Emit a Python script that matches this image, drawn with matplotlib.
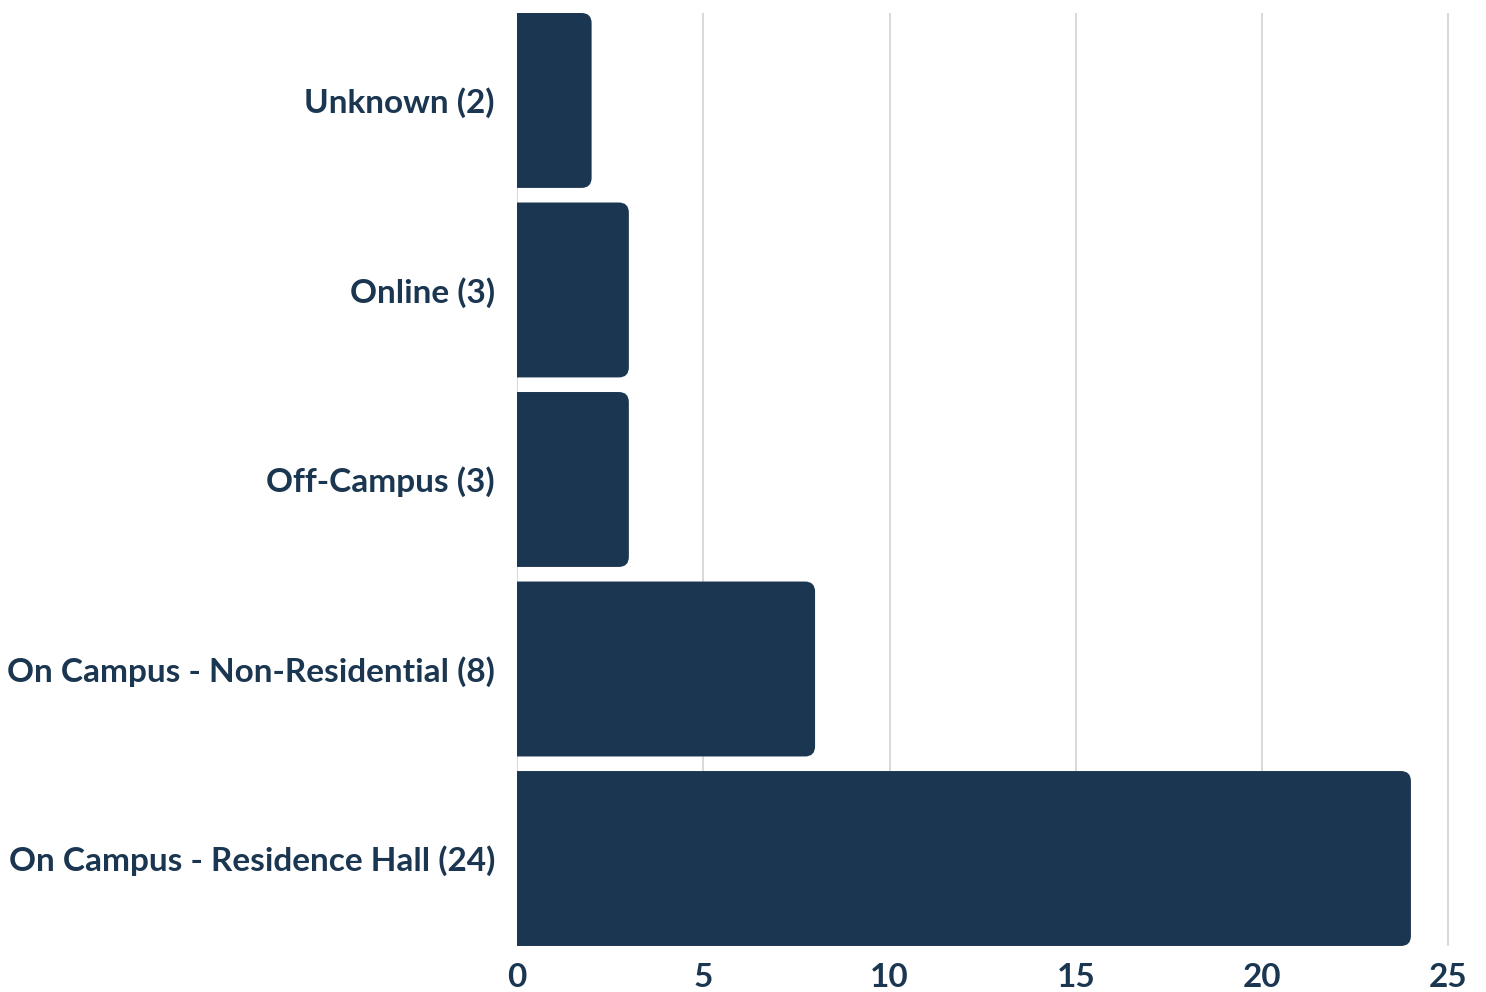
import matplotlib
matplotlib.use("Agg")
import matplotlib.pyplot as plt
from matplotlib.patches import FancyBboxPatch

categories = ["On Campus - Residence Hall (24)", "On Campus - Non-Residential (8)",
              "Off-Campus (3)", "Online (3)", "Unknown (2)"]
values = [24, 8, 3, 3, 2]
xticks = [0, 5, 10, 15, 20, 25]

navy = "#1b3650"
plt.rcParams['font.family'] = ['Lato', 'DejaVu Sans']

fig = plt.figure(figsize=(14.86, 9.92), dpi=100)
ax = fig.add_axes([0.348, 0.0464, 0.6278, 0.9405])

ypos = list(range(len(values)))
bars = ax.barh(ypos, values, height=0.923, color=navy)

# swap plain bars for rounded ones (left end hidden past x=0)
rx = 0.27
for b in bars:
    x, y = b.get_x(), b.get_y()
    w, h = b.get_width(), b.get_height()
    b.set_visible(False)
    p = FancyBboxPatch((x - 1, y), w + 1, h,
                       boxstyle=f"round,pad=0,rounding_size={rx}",
                       mutation_aspect=0.197, facecolor=navy, edgecolor="none",
                       zorder=3)
    ax.add_patch(p)

ax.set_xlim(0, 25.05)
ax.set_ylim(-0.4615, len(values) - 1 + 0.4615)
ax.set_yticks(ypos)
ax.set_yticklabels(categories)
ax.set_xticks(xticks)
ax.grid(axis="x", color="#d3d6db", linewidth=1.3, zorder=0)
ax.set_axisbelow(True)
for s in ax.spines.values():
    s.set_visible(False)
ax.tick_params(axis="both", length=0, labelcolor=navy, labelsize=24)
ax.tick_params(axis="y", pad=16)
ax.tick_params(axis="x", pad=12)
for lab in ax.get_xticklabels() + ax.get_yticklabels():
    lab.set_fontweight("bold")

fig.savefig("out.png", dpi=100)
